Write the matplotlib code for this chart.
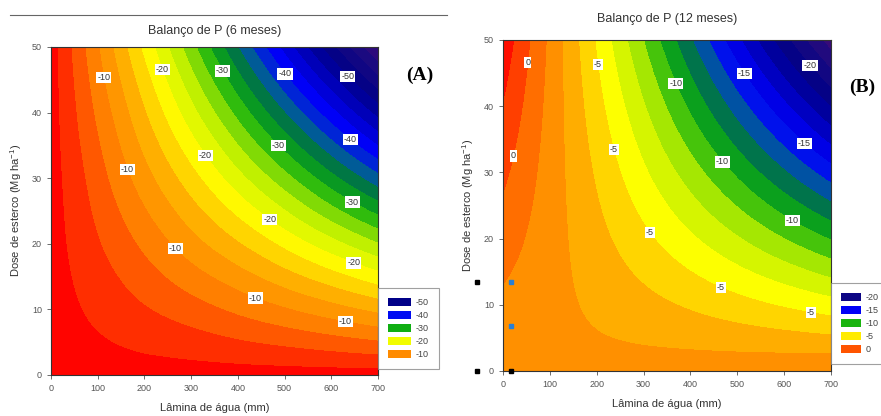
import numpy as np
import matplotlib
matplotlib.use("Agg")
import matplotlib.pyplot as plt
import matplotlib.tri as mtri
from matplotlib.colors import LinearSegmentedColormap, Normalize
from matplotlib.patches import Patch
from matplotlib.lines import Line2D

# =========================================================
# DATA (values read off the two response surfaces)
# =========================================================
lamina = [0, 100, 200, 300, 400, 500, 600, 700]   # mm
dose = [0, 10, 20, 30, 40, 50]                    # Mg ha-1

# rows = dose, columns = lamina
balanco_6m = [
    [-1.4, -1.4, -1.4, -1.4, -1.4, -1.4, -1.4, -1.4],
    [-1.4, -3.1, -4.8, -6.4, -8.1, -9.8, -11.5, -13.2],
    [-1.4, -4.8, -8.1, -11.5, -14.8, -18.2, -21.6, -24.9],
    [-1.4, -6.4, -11.5, -16.5, -21.6, -26.6, -31.7, -36.7],
    [-1.4, -8.1, -14.8, -21.6, -28.3, -35.0, -41.7, -48.5],
    [-1.4, -9.8, -18.2, -26.6, -35.0, -43.4, -51.8, -60.2],
]

balanco_12m = [
    [-2.43, -2.28, -2.13, -1.98, -1.83, -1.68, -1.53, -1.38],
    [-1.53, -2.13, -2.73, -3.33, -3.93, -4.54, -5.14, -5.74],
    [-0.63, -1.98, -3.33, -4.69, -6.04, -7.39, -8.75, -10.10],
    [0.28, -1.83, -3.93, -6.04, -8.14, -10.25, -12.36, -14.46],
    [1.18, -1.68, -4.54, -7.39, -10.25, -13.11, -15.96, -18.82],
    [2.08, -1.53, -5.14, -8.75, -12.36, -15.96, -19.57, -23.18],
]

labels_6m = [-50, -40, -30, -20, -10]
labels_12m = [-20, -15, -10, -5, 0]

# selection handles visible around panel B in the original image
handle_black_x = [-55, -55, 17]
handle_black_y = [13.4, 0, 0]
handle_blue_x = [17, 17]
handle_blue_y = [13.4, 6.8]

# =========================================================
# STYLE
# =========================================================
plt.rcParams["font.family"] = ["Liberation Sans", "DejaVu Sans"]
plt.rcParams["mathtext.default"] = "regular"

rainbow = LinearSegmentedColormap.from_list("sigma_rainbow", [
    (0.00, "#3c0a78"),
    (0.08, "#1a0a80"),
    (0.18, "#000088"),
    (0.27, "#0000cc"),
    (0.34, "#0000ff"),
    (0.41, "#005a9a"),
    (0.46, "#007a3a"),
    (0.52, "#10b010"),
    (0.61, "#b8ee00"),
    (0.70, "#ffff00"),
    (0.78, "#ffb400"),
    (0.87, "#ff8000"),
    (0.94, "#ff4000"),
    (1.00, "#ff0000"),
])

# label positions for the contour values (layout, not data)
pos_6m = [(113, 45.3), (163, 31.3), (265, 19.2), (437, 11.7), (630, 8.1),
          (238, 46.5), (330, 33.5), (469, 23.8), (647, 16.9),
          (366, 46.3), (486, 34.9), (645, 26.4),
          (501, 45.9), (640, 35.8), (636, 45.6)]
pos_12m = [(58, 46.5), (15, 32.6),
           (207, 46.4), (226, 33.2), (303, 20.4), (463, 12.2), (657, 8.6),
           (369, 43.4), (459, 31.0), (610, 21.8),
           (516, 45.0), (636, 33.8), (657, 46.2)]


def draw_panel(ax, z, fill_levels, line_levels, norm, label_pos, title, title_pad):
    X, Y = np.meshgrid(lamina, dose)
    z = np.array(z)
    tri = mtri.Triangulation(X.ravel(), Y.ravel())
    interp = mtri.CubicTriInterpolator(tri, z.ravel(), kind="min_E")
    refiner = mtri.UniformTriRefiner(tri)
    tri_f, z_f = refiner.refine_field(z.ravel(), triinterpolator=interp, subdiv=4)

    ax.tricontourf(tri_f, z_f, levels=fill_levels, cmap=rainbow, norm=norm)
    cs = ax.tricontour(tri_f, z_f, levels=line_levels, colors="k", linewidths=0)
    texts = ax.clabel(cs, manual=label_pos, fmt="%d", fontsize=6.5, inline=False)
    for t in texts:
        t.set_rotation(0)
        t.set_color("#333333")
        t.set_bbox(dict(facecolor="white", edgecolor="none", pad=0.8))

    ax.set_xlim(0, 700)
    ax.set_ylim(0, 50)
    ax.set_xticks(lamina)
    ax.set_yticks(dose)
    ax.tick_params(labelsize=6.5, labelcolor="#555555", length=3, width=0.6, color="#555555")
    for s in ax.spines.values():
        s.set_linewidth(0.8)
        s.set_color("#333333")
    ax.set_title(title, fontsize=9, color="#333333", pad=title_pad)
    ax.set_xlabel("Lâmina de água (mm)", fontsize=8, color="#333333", labelpad=7)
    ax.set_ylabel("Dose de esterco (Mg ha$^{-1}$)", fontsize=8, color="#333333", labelpad=6)


def add_legend(fig, values, norm, anchor, hlen):
    handles = [Patch(facecolor=rainbow(norm(v)), edgecolor="none") for v in values]
    leg = fig.legend(handles, [str(v) for v in values], loc="upper left",
                     bbox_to_anchor=anchor, borderaxespad=0, fontsize=6.5,
                     frameon=True, fancybox=False,
                     handlelength=hlen, handleheight=0.9, labelspacing=0.45,
                     borderpad=1.1, handletextpad=0.5, labelcolor="#444444")
    leg.get_frame().set_edgecolor("#888888")
    leg.get_frame().set_linewidth(0.8)


# =========================================================
# FIGURE
# =========================================================
fig = plt.figure(figsize=(8.81, 4.16), dpi=100)
axA = fig.add_axes([0.0579, 0.0986, 0.3712, 0.7885])
axB = fig.add_axes([0.5709, 0.1082, 0.3723, 0.7957])

normA = Normalize(vmin=-61.0, vmax=-1.0)
normB = Normalize(vmin=-23.5, vmax=2.2)

draw_panel(axA, balanco_6m, np.arange(-62.5, 0.01, 2.5), labels_6m, normA, pos_6m,
           "Balanço de P (6 meses)", 9)
draw_panel(axB, balanco_12m, np.arange(-25.0, 3.76, 1.25), labels_12m, normB, pos_12m,
           "Balanço de P (12 meses)", 13)

add_legend(fig, labels_6m, normA, (378 / 881, 1 - 288 / 416), 2.6)
add_legend(fig, labels_12m, normB, (831 / 881, 1 - 283 / 416), 2.2)

# panel letters
fig.text(420 / 881, 1 - 75 / 416, "(A)", family=["Liberation Serif", "DejaVu Serif"],
         fontsize=14, fontweight="bold", ha="center", va="center")
fig.text(862 / 881, 1 - 87 / 416, "(B)", family=["Liberation Serif", "DejaVu Serif"],
         fontsize=14, fontweight="bold", ha="center", va="center")

# separator line above panel A
fig.add_artist(Line2D([10 / 881, 447 / 881], [1 - 15 / 416, 1 - 15 / 416],
                      color="#666666", linewidth=0.8))

# handles
axB.plot(handle_black_x, handle_black_y, "s", color="black", markersize=3.5, clip_on=False, zorder=5)
axB.plot(handle_blue_x, handle_blue_y, "s", color="#2a7fd4", markersize=3.5, clip_on=False, zorder=5)

fig.savefig("out.png", dpi=100)
